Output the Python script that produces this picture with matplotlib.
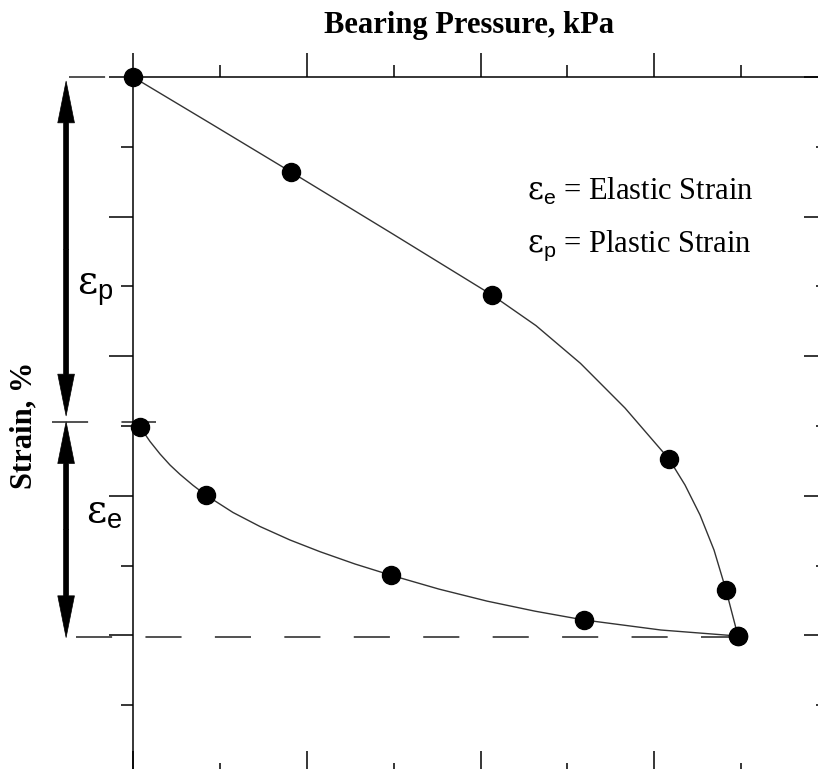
import numpy as np
import matplotlib.pyplot as plt
from matplotlib.ticker import MultipleLocator
from matplotlib.patches import FancyArrowPatch

# ============================== Data =========================================
# bearing pressure [kPa] / strain [%] at the measured points
p_load = [0.0, 181.9, 413.2, 617.0, 682.6, 696.4]
s_load = [0.000, 0.1361, 0.3123, 0.5473, 0.7350, 0.8009]

p_unload = [8.1, 84.0, 297.0, 519.2, 696.4]
s_unload = [0.5014, 0.5991, 0.7138, 0.7779, 0.8009]

# hand traced curves through the points
p_load_curve = [0.0, 90.9, 181.9, 298.1, 413.2, 463.9, 515.1, 566.3, 617.0,
                635.4, 652.7, 668.8, 682.6, 696.4]
s_load_curve = [0.0000, 0.0678, 0.1361, 0.2242, 0.3123, 0.3562, 0.4103, 0.4742, 0.5473,
                0.5845, 0.6275, 0.6777, 0.7350, 0.8009]

p_unload_curve = [8.1, 19.6, 31.1, 42.6, 54.1, 69.1, 84.0, 115.1, 146.2, 180.7,
                  215.3, 255.5, 297.0, 352.3, 407.6, 462.8, 519.2, 607.8, 696.4]
s_unload_curve = [0.5014, 0.5222, 0.5401, 0.5559, 0.5693, 0.5850, 0.5991, 0.6239, 0.6440, 0.6633,
                  0.6801, 0.6977, 0.7138, 0.7337, 0.7509, 0.7653, 0.7779, 0.7923, 0.8009]

# strain levels: start, residual after unloading, peak
s_zero = 0.0
s_resid = 0.494
s_peak = 0.803

# ============================== Style ========================================
plt.rcParams['lines.scale_dashes'] = False
plt.rcParams['mathtext.fontset'] = 'custom'
plt.rcParams['mathtext.rm'] = 'DejaVu Serif'
plt.rcParams['mathtext.sf'] = 'Liberation Sans'
serif = 'Liberation Serif'
dash = (0, (26, 24))
eps_p = r'$\mathrm{\varepsilon}_\mathsf{p}$'
eps_e = r'$\mathrm{\varepsilon}_\mathsf{e}$'

# ============================== Figure =======================================
fig = plt.figure(figsize=(8.18, 7.69), dpi=100)
ax = fig.add_axes([133/818, -6/769, 695/818, 698/769])
ax.set_xlim(0, 800)
ax.set_ylim(1.0, 0.0)
for s in ax.spines.values():
    s.set_linewidth(1.1)

# dashed strain levels
ax.plot([-73.7, 0], [s_zero, s_zero], color='#222222', lw=1.1, ls=dash, clip_on=False)
ax.plot([-93.2, 26.5], [s_resid, s_resid], color='#222222', lw=1.1, ls=dash, clip_on=False)
ax.plot([-65.6, p_load[-1]], [s_peak, s_peak], color='#222222', lw=1.1, ls=dash, clip_on=False)

# loading / unloading curves
ax.plot(p_load_curve, s_load_curve, color='#333333', lw=1.0, zorder=3)
ax.plot(p_unload_curve, s_unload_curve, color='#333333', lw=1.0, zorder=3)
ax.plot(p_load, s_load, 'o', ms=13, color='black', zorder=4, clip_on=False)
ax.plot(p_unload, s_unload, 'o', ms=13, color='black', zorder=4, clip_on=False)


# double headed strain arrow, drawn as two halves from the middle
def strain_arrow(s_a, s_b, shrink_a, shrink_b, x=-77):
    mid = (s_a + s_b) / 2
    for end, shr in ((s_a, shrink_a), (s_b, shrink_b)):
        ax.add_patch(FancyArrowPatch((x, mid), (x, end),
                                     arrowstyle='simple,head_length=30,head_width=12,tail_width=3.6',
                                     mutation_scale=1, lw=0.5, fc='black', ec='black',
                                     shrinkA=0, shrinkB=shr, clip_on=False))


strain_arrow(s_zero, s_resid, 3, 4.3)
strain_arrow(s_resid, s_peak, 0, 0)
ax.text(-43.7, 0.304, eps_p, fontsize=28, ha='center', va='center')
ax.text(-33.4, 0.623, eps_e, fontsize=28, ha='center', va='center')

# key
ax.text(453.5, 0.176, eps_e + ' = Elastic Strain', family=serif, fontsize=22, va='baseline')
ax.text(453.5, 0.251, eps_p + ' = Plastic Strain', family=serif, fontsize=22, va='baseline')

# ============================== Axes =========================================
ax.xaxis.set_ticks_position('top')
ax.yaxis.set_ticks_position('left')
ax.xaxis.set_major_locator(MultipleLocator(200))
ax.xaxis.set_minor_locator(MultipleLocator(100))
ax.yaxis.set_major_locator(MultipleLocator(0.2))
ax.yaxis.set_minor_locator(MultipleLocator(0.1))
ax.tick_params(which='major', direction='out', length=17.5, width=1.1)
ax.tick_params(which='minor', direction='out', length=8.6, width=1.1)
ax.tick_params(labeltop=False, labelbottom=False, labelleft=False, labelright=False)

bx = ax.secondary_xaxis('bottom')
bx.xaxis.set_major_locator(MultipleLocator(200))
bx.xaxis.set_minor_locator(MultipleLocator(100))
ry = ax.secondary_yaxis('right')
ry.yaxis.set_major_locator(MultipleLocator(0.2))
ry.yaxis.set_minor_locator(MultipleLocator(0.1))
for sec in (bx, ry):
    sec.tick_params(which='major', direction='in', length=17.5, width=1.1)
    sec.tick_params(which='minor', direction='in', length=8.6, width=1.1)
    sec.tick_params(labelbottom=False, labelright=False)

fig.text(469/818, 1 - 33/769, 'Bearing Pressure, kPa', ha='center', va='baseline',
         family=serif, weight='bold', fontsize=22)
fig.text(24/818, 1 - 425/769, 'Strain, %', ha='center', va='center', rotation=90,
         family=serif, weight='bold', fontsize=22)

fig.savefig('out.png', dpi=100)
